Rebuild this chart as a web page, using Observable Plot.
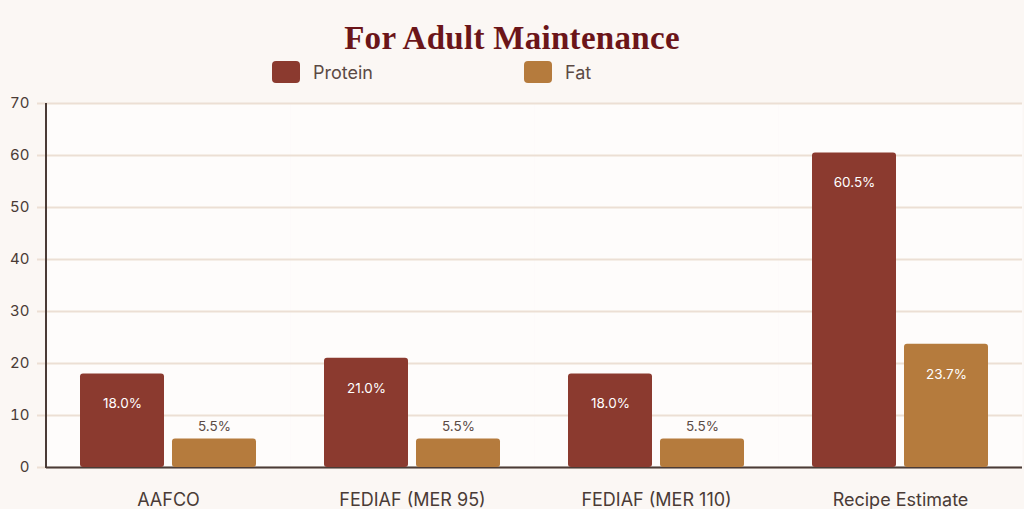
<!DOCTYPE html>
<html>
<head>
<meta charset="utf-8">
<script src="https://cdn.jsdelivr.net/npm/d3@7"></script>
<script src="https://cdn.jsdelivr.net/npm/@observablehq/plot@0.6"></script>
<style>
  html, body { margin: 0; padding: 0; background: #fbf7f4; }
  body { width: 1024px; height: 509px; overflow: hidden; font-family: Inter, "Noto Sans", sans-serif; }
  #header { position: relative; height: 90px; }
  #title { position: absolute; left: 0; width: 1024px; top: 20px; text-align: center;
    font-family: "Liberation Serif", "DejaVu Serif", serif; font-weight: bold; font-size: 33px; color: #6b1519; letter-spacing: 0.3px; }
  .lg { position: absolute; top: 61px; display: flex; align-items: center; font-size: 18px; color: #5b4a44; }
  .sw { width: 28px; height: 22px; border-radius: 4px; margin-right: 13px; }
</style>
</head>
<body>
<div id="header">
  <div id="title">For Adult Maintenance</div>
  <div class="lg" style="left:272px"><div class="sw" style="background:#8b3a2f"></div>Protein</div>
  <div class="lg" style="left:524px"><div class="sw" style="background:#b57b3d"></div>Fat</div>
</div>
<div id="chart"></div>
<script>
const categories = ["AAFCO", "FEDIAF (MER 95)", "FEDIAF (MER 110)", "Recipe Estimate"];
const series = ["Protein", "Fat"];
const protein = [18.0, 21.0, 18.0, 60.5];
const fat = [5.5, 5.5, 5.5, 23.7];
const yTicks = [0, 10, 20, 30, 40, 50, 60, 70];
const colors = ["#8b3a2f", "#b57b3d"];

const data = categories.flatMap((c, i) => [
  {cat: c, series: "Protein", value: protein[i]},
  {cat: c, series: "Fat", value: fat[i]}
]);
const inside = data.filter(d => d.value > 10);
const above = data.filter(d => d.value <= 10);

const chart = Plot.plot({
  width: 1024,
  height: 419,
  marginTop: 13,
  marginBottom: 42,
  marginLeft: 46,
  marginRight: 2,
  style: {background: "transparent", fontFamily: "Inter, sans-serif", fontSize: "15px", color: "#4a3b36"},
  fx: {domain: categories, padding: 0, axis: null, label: null},
  x: {domain: series, paddingInner: 0.086, paddingOuter: 0.355, axis: null},
  y: {domain: [0, 70], axis: null, label: null},
  color: {domain: series, range: colors},
  marks: [
    Plot.frame({fill: "#fefcfb", stroke: null}),
    Plot.ruleY(yTicks, {stroke: "#ecdfd4", strokeWidth: 2}),
    Plot.axisY({ticks: yTicks, tickSize: 9, tickPadding: 8, stroke: "#ecdfd4", strokeWidth: 2, strokeOpacity: 1, label: null, fill: "#4a3b36", fontSize: 15}),
    Plot.axisFx({anchor: "bottom", tickSize: 0, tickPadding: 26, label: null, fontSize: 18, fill: "#4a3b36"}),
    Plot.ruleY([0], {stroke: "#4a3b36", strokeWidth: 2}),
    Plot.barY(data, {fx: "cat", x: "series", y: "value", fill: "series", rx: 3}),
    Plot.text(inside, {fx: "cat", x: "series", y: "value", text: d => d.value.toFixed(1) + "%", dy: 30, fill: "white", fontSize: 13.5}),
    Plot.text(above, {fx: "cat", x: "series", y: "value", text: d => d.value.toFixed(1) + "%", dy: -12, fill: "#5b4a44", fontSize: 13.5})
  ]
});
// left axis line
const svg = d3.select(chart);
svg.append("line").attr("x1", 46).attr("x2", 46).attr("y1", 13).attr("y2", 378)
  .attr("stroke", "#4a3b36").attr("stroke-width", 2);
document.getElementById("chart").appendChild(chart);
</script>
</body>
</html>
